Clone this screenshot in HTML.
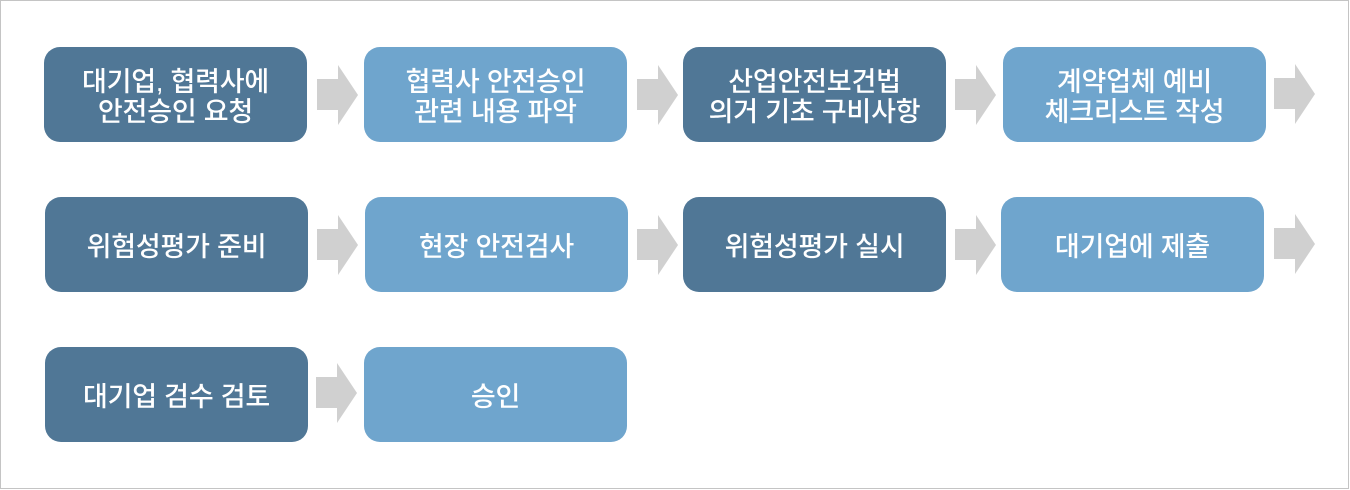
<!DOCTYPE html>
<html><head><meta charset="utf-8"><style>
html,body{margin:0;padding:0;background:#fff;}
.frame{position:absolute;left:0;top:0;width:1347px;height:487px;border:1px solid #c4c4c4;background:#fff;}
.b{position:absolute;width:263px;height:95px;border-radius:16px;display:flex;align-items:center;justify-content:center;text-align:center;color:#fff;font-family:"Liberation Sans","Noto Sans CJK KR",sans-serif;font-size:27px;font-weight:500;line-height:30px;padding-top:4px;box-sizing:border-box;letter-spacing:-0.2px;}
.d{background:#507796;}
.l{background:#6fa5cd;}
.a{position:absolute;width:41px;height:60px;}
</style></head><body>
<div class="frame"></div>

<div class="b d" style="left:44px;top:47px;">대기업, 협력사에<br>안전승인 요청</div>
<div class="b l" style="left:364px;top:47px;">협력사 안전승인<br>관련 내용 파악</div>
<div class="b d" style="left:683px;top:47px;">산업안전보건법<br>의거 기초 구비사항</div>
<div class="b l" style="left:1003px;top:47px;">계약업체 예비<br>체크리스트 작성</div>

<div class="b d" style="left:45px;top:197px;">위험성평가 준비</div>
<div class="b l" style="left:365px;top:197px;">현장 안전검사</div>
<div class="b d" style="left:683px;top:197px;">위험성평가 실시</div>
<div class="b l" style="left:1001px;top:197px;">대기업에 제출</div>

<div class="b d" style="left:45px;top:347px;">대기업 검수 검토</div>
<div class="b l" style="left:364px;top:347px;">승인</div>

<svg class="a" style="left:317px;top:65px" viewBox="0 0 41 60"><polygon points="0,14 21,14 21,0 41,30 21,60 21,45 0,45" fill="#d0d0d0"/></svg>
<svg class="a" style="left:637px;top:65px" viewBox="0 0 41 60"><polygon points="0,14 21,14 21,0 41,30 21,60 21,45 0,45" fill="#d0d0d0"/></svg>
<svg class="a" style="left:955px;top:65px" viewBox="0 0 41 60"><polygon points="0,14 21,14 21,0 41,30 21,60 21,45 0,45" fill="#d0d0d0"/></svg>
<svg class="a" style="left:1274px;top:64px" viewBox="0 0 41 60"><polygon points="0,14 21,14 21,0 41,30 21,60 21,45 0,45" fill="#d0d0d0"/></svg>

<svg class="a" style="left:317px;top:215px" viewBox="0 0 41 60"><polygon points="0,14 21,14 21,0 41,30 21,60 21,45 0,45" fill="#d0d0d0"/></svg>
<svg class="a" style="left:637px;top:215px" viewBox="0 0 41 60"><polygon points="0,14 21,14 21,0 41,30 21,60 21,45 0,45" fill="#d0d0d0"/></svg>
<svg class="a" style="left:955px;top:215px" viewBox="0 0 41 60"><polygon points="0,14 21,14 21,0 41,30 21,60 21,45 0,45" fill="#d0d0d0"/></svg>
<svg class="a" style="left:1274px;top:214px" viewBox="0 0 41 60"><polygon points="0,14 21,14 21,0 41,30 21,60 21,45 0,45" fill="#d0d0d0"/></svg>

<svg class="a" style="left:316px;top:363px" viewBox="0 0 41 60"><polygon points="0,14 21,14 21,0 41,30 21,60 21,45 0,45" fill="#d0d0d0"/></svg>
</body></html>
